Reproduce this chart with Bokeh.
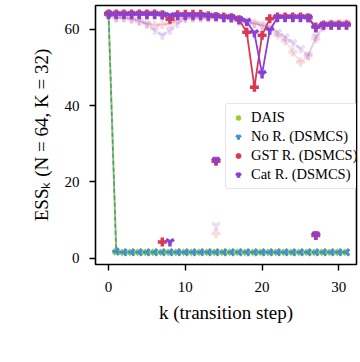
import math
from bokeh.plotting import figure
from bokeh.models import Legend, LegendItem, FixedTicker, Range1d
from bokeh.embed import file_html
from bokeh.resources import INLINE

k = list(range(32))

dais = [64.0, 1.7, 1.6, 1.6, 1.6, 1.6, 1.6, 1.6, 1.6, 1.6, 1.6, 1.6, 1.6, 1.6, 1.6, 1.6,
        1.6, 1.6, 1.6, 1.6, 1.6, 1.6, 1.6, 1.6, 1.6, 1.6, 1.6, 1.6, 1.6, 1.6, 1.6, 1.6]
no_r = [64.0, 1.8, 1.6, 1.6, 1.6, 1.6, 1.6, 1.6, 1.6, 1.6, 1.6, 1.6, 1.6, 1.6, 1.6, 1.6,
        1.6, 1.6, 1.6, 1.6, 1.6, 1.6, 1.6, 1.6, 1.6, 1.6, 1.6, 1.6, 1.6, 1.6, 1.6, 1.6]
gst = [64.0, 64.0, 64.0, 64.0, 64.0, 64.0, 64.0, 63.8, 62.6, 63.8, 63.9, 63.9, 63.9, 63.5, 63.3, 63.2,
       63.0, 62.5, 59.2, 44.8, 58.4, 62.7, 63.2, 63.2, 63.2, 63.2, 63.0, 60.6, 61.1, 61.1, 61.1, 61.1]
cat = [63.8, 63.8, 63.8, 63.8, 63.8, 63.8, 63.8, 63.7, 63.5, 63.5, 63.5, 63.5, 63.5, 63.4, 63.3, 63.0,
       63.0, 62.5, 62.0, 59.0, 48.3, 59.7, 63.0, 63.0, 63.0, 63.0, 63.0, 60.3, 61.0, 61.0, 61.0, 61.0]
gst_b = [64.0, 63.0, 63.0, 62.5, 62.0, 61.5, 61.0, 61.2, 61.5, 62.5, 63.0, 63.0, 63.0, 63.0, 63.0, 63.0,
         63.0, 62.5, 62.0, 61.5, 61.0, 60.0, 58.5, 57.0, 54.0, 51.4, 53.0, 57.5, 60.5, 61.5, 61.5, 61.5]
cat_b = [64.0, 63.0, 63.0, 62.8, 62.3, 61.3, 59.7, 58.4, 59.7, 61.5, 62.8, 63.0, 63.0, 63.0, 63.0, 63.0,
         63.0, 62.0, 61.5, 61.5, 61.0, 60.5, 59.2, 58.0, 56.5, 54.9, 53.1, 58.0, 61.0, 61.5, 61.5, 61.5]

gst_pts_k = [7, 14, 27]
gst_pts_v = [4.3, 25.4, 6.0]
cat_pts_k = [8, 14, 27]
cat_pts_v = [4.3, 25.6, 6.1]
gst_b_pts_k = [14]
gst_b_pts_v = [6.5]
cat_b_pts_k = [14]
cat_b_pts_v = [8.6]

x_ticks = [0, 10, 20, 30]
y_ticks = [0, 20, 40, 60]

GREEN = "#9acb36"
BLUE = "#3d93cf"
RED = "#d73a52"
PURPLE = "#8b3fd3"
FONT = "Liberation Serif"

p = figure(width=358, height=346, output_backend="svg", toolbar_location=None,
           x_range=Range1d(-1.7, 32.3), y_range=Range1d(-1.6, 66.2),
           min_border_left=95, min_border_right=2, min_border_top=5, min_border_bottom=82)
p.grid.visible = False
p.outline_line_color = "black"
p.outline_line_width = 1.6
p.background_fill_color = "white"
p.border_fill_color = "white"

for ax in (p.xaxis[0], p.yaxis[0]):
    ax.axis_line_color = None
    ax.major_tick_out = 6
    ax.major_tick_in = 0
    ax.major_tick_line_width = 1.4
    ax.major_tick_line_color = "black"
    ax.minor_tick_line_color = None
    ax.major_label_text_font = FONT
    ax.major_label_text_font_size = "15px"
    ax.major_label_text_color = "black"
    ax.axis_label_text_font = FONT
    ax.axis_label_text_font_style = "normal"
    ax.axis_label_text_font_size = "19px"
    ax.axis_label_text_color = "black"

p.xaxis.ticker = FixedTicker(ticks=x_ticks)
p.yaxis.ticker = FixedTicker(ticks=y_ticks)
p.xaxis.major_label_standoff = 11
p.yaxis.major_label_standoff = 10
p.xaxis.axis_label = "k (transition step)"
p.yaxis.axis_label = "ESS\u2096 (N = 64, K = 32)"
p.xaxis.axis_label_standoff = 7
p.yaxis.axis_label_standoff = 10

# DAIS and No R.
p.line(k, dais, line_color=GREEN, line_width=2)
r_dais = p.scatter(k, dais, marker="x", size=8, line_color=GREEN, line_width=3)
p.line(k, no_r, line_color=BLUE, line_width=1.5, line_dash="4 3")
r_nor = p.scatter(k, no_r, marker="y", angle=-math.pi / 2, size=8, line_color=BLUE, line_width=3)

# faint runs
p.line(k, gst_b, line_color=RED, line_width=1.5, line_alpha=0.18)
p.scatter(k, gst_b, marker="cross", size=9, line_color=RED, line_width=3.5, line_alpha=0.18)
p.scatter(gst_b_pts_k, gst_b_pts_v, marker="cross", size=9, line_color=RED, line_width=3.5, line_alpha=0.18)
p.line(k, cat_b, line_color=PURPLE, line_width=1.5, line_alpha=0.18)
p.scatter(k, cat_b, marker="y", size=9, line_color=PURPLE, line_width=3.5, line_alpha=0.18)
p.scatter(cat_b_pts_k, cat_b_pts_v, marker="y", size=9, line_color=PURPLE, line_width=3.5, line_alpha=0.18)

# main runs
p.line(k, gst, line_color=RED, line_width=1.8)
r_gst = p.scatter(k, gst, marker="cross", size=9, line_color=RED, line_width=3.5)
p.scatter(gst_pts_k, gst_pts_v, marker="cross", size=9, line_color=RED, line_width=3.5)
p.line(k, cat, line_color=PURPLE, line_width=1.8)
r_cat = p.scatter(k, cat, marker="y", size=9, line_color=PURPLE, line_width=3.5)
p.scatter(cat_pts_k, cat_pts_v, marker="y", size=9, line_color=PURPLE, line_width=3.5)

legend = Legend(items=[
    LegendItem(label="DAIS", renderers=[r_dais]),
    LegendItem(label="No R. (DSMCS)", renderers=[r_nor]),
    LegendItem(label="GST R. (DSMCS)", renderers=[r_gst]),
    LegendItem(label="Cat R. (DSMCS)", renderers=[r_cat]),
], location=(130, 75))
legend.label_text_font = FONT
legend.label_text_font_size = "14.5px"
legend.label_text_color = "black"
legend.label_height = 17
legend.label_standoff = 6
legend.glyph_width = 14
legend.glyph_height = 17
legend.spacing = 2
legend.padding = 5
legend.margin = 0
legend.border_line_color = "#cccccc"
legend.border_line_width = 1
legend.border_radius = 3
legend.background_fill_alpha = 0.85
p.add_layout(legend, "center")

open("out.html", "w").write(file_html(p, INLINE))
